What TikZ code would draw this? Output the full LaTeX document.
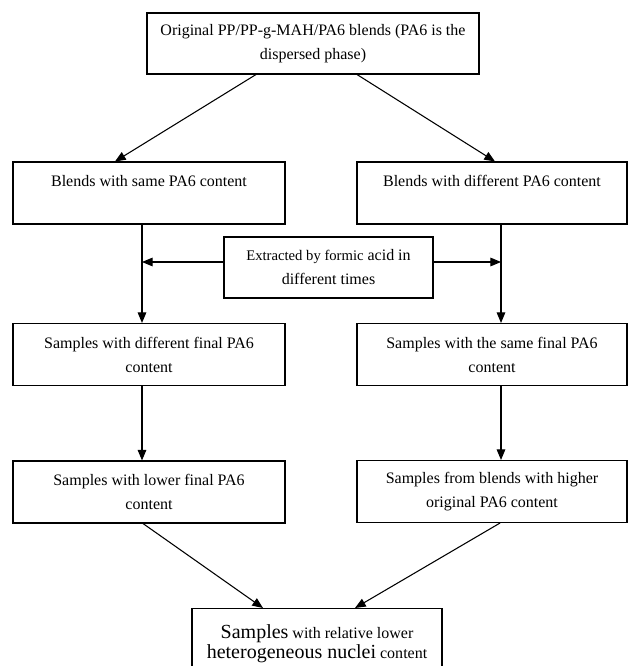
\documentclass[tikz,border=0pt]{standalone}
\usepackage{fontspec}
\setmainfont{Liberation Serif}
\usetikzlibrary{arrows.meta}

\newcommand\bigwd[1]{{\fontsize{15}{15}\selectfont #1}}
\newcommand\smallwd[1]{{\fontsize{11}{18}\selectfont #1}}

\begin{document}
\begin{tikzpicture}[x=0.75pt,y=-0.75pt,line width=0.8pt,
        stage/.style={draw, align=center, inner sep=0pt, minimum height=46.5pt,
            font=\fontsize{12}{18}\selectfont},
        arr/.style={-{Triangle[length=8pt,width=6.5pt]}}]
        \useasboundingbox (0,0) rectangle (627,666);

        % boxes
        \node[stage, minimum width=249pt, minimum height=45.75pt] (orig) at (313,43.5)
            {Original PP/PP-g-MAH/PA6 blends (PA6 is the\\ dispersed phase)};
        \node[stage, minimum width=204pt] (lsame) at (149,193)
            {Blends with same PA6 content\\ \mbox{}};
        \node[stage, minimum width=202.5pt] (rdiff) at (492,193)
            {Blends with different PA6 content\\ \mbox{}};
        \node[stage, minimum width=156.75pt, minimum height=45.75pt] (mid) at (328.5,267.5)
            {\smallwd{Extracted by formic} acid in\\ different times};
        \node[stage, minimum width=204pt] (lfin) at (149,354.5)
            {Samples with different final PA6\\ content};
        \node[stage, minimum width=202.5pt] (rfin) at (492,354.5)
            {Samples with the same final PA6\\ content};
        \node[stage, minimum width=204pt] (llow) at (149,492)
            {Samples with lower final PA6\\ content};
        \node[stage, minimum width=202.5pt] (rhigh) at (492,491.5)
            {Samples from blends with higher\\ original PA6 content};
        \node[stage, minimum width=187.5pt, minimum height=52.5pt, anchor=north,
            font=\fontsize{12}{15}\selectfont] (nuclei) at (317,608)
            {\bigwd{Samples} with relative lower\\ \bigwd{heterogeneous nuclei} content};

        \coordinate (lx) at (142,262);
        \coordinate (rx) at (501,262);

        % connectors
        \draw[arr] ([shift={(-57,0)}]orig.south) -- ([shift={(-34,0)}]lsame.north);
        \draw[arr] ([shift={(44,0)}]orig.south) -- ([shift={(3,0)}]rdiff.north);
        \draw[arr] (lsame.south -| lx) -- (lfin.north -| lx);
        \draw[arr] (rdiff.south -| rx) -- (rfin.north -| rx);
        \draw[arr] (mid.west |- lx) -- (lx);
        \draw[arr] (mid.east |- rx) -- (rx);
        \draw[arr] (lfin.south -| lx) -- (llow.north -| lx);
        \draw[arr] (rfin.south -| rx) -- (rhigh.north -| rx);
        \draw[arr] ([shift={(-6,0)}]llow.south) -- ([shift={(-54,0)}]nuclei.north);
        \draw[arr] ([shift={(8,0)}]rhigh.south) -- ([shift={(38,0)}]nuclei.north);

\end{tikzpicture}
\end{document}
